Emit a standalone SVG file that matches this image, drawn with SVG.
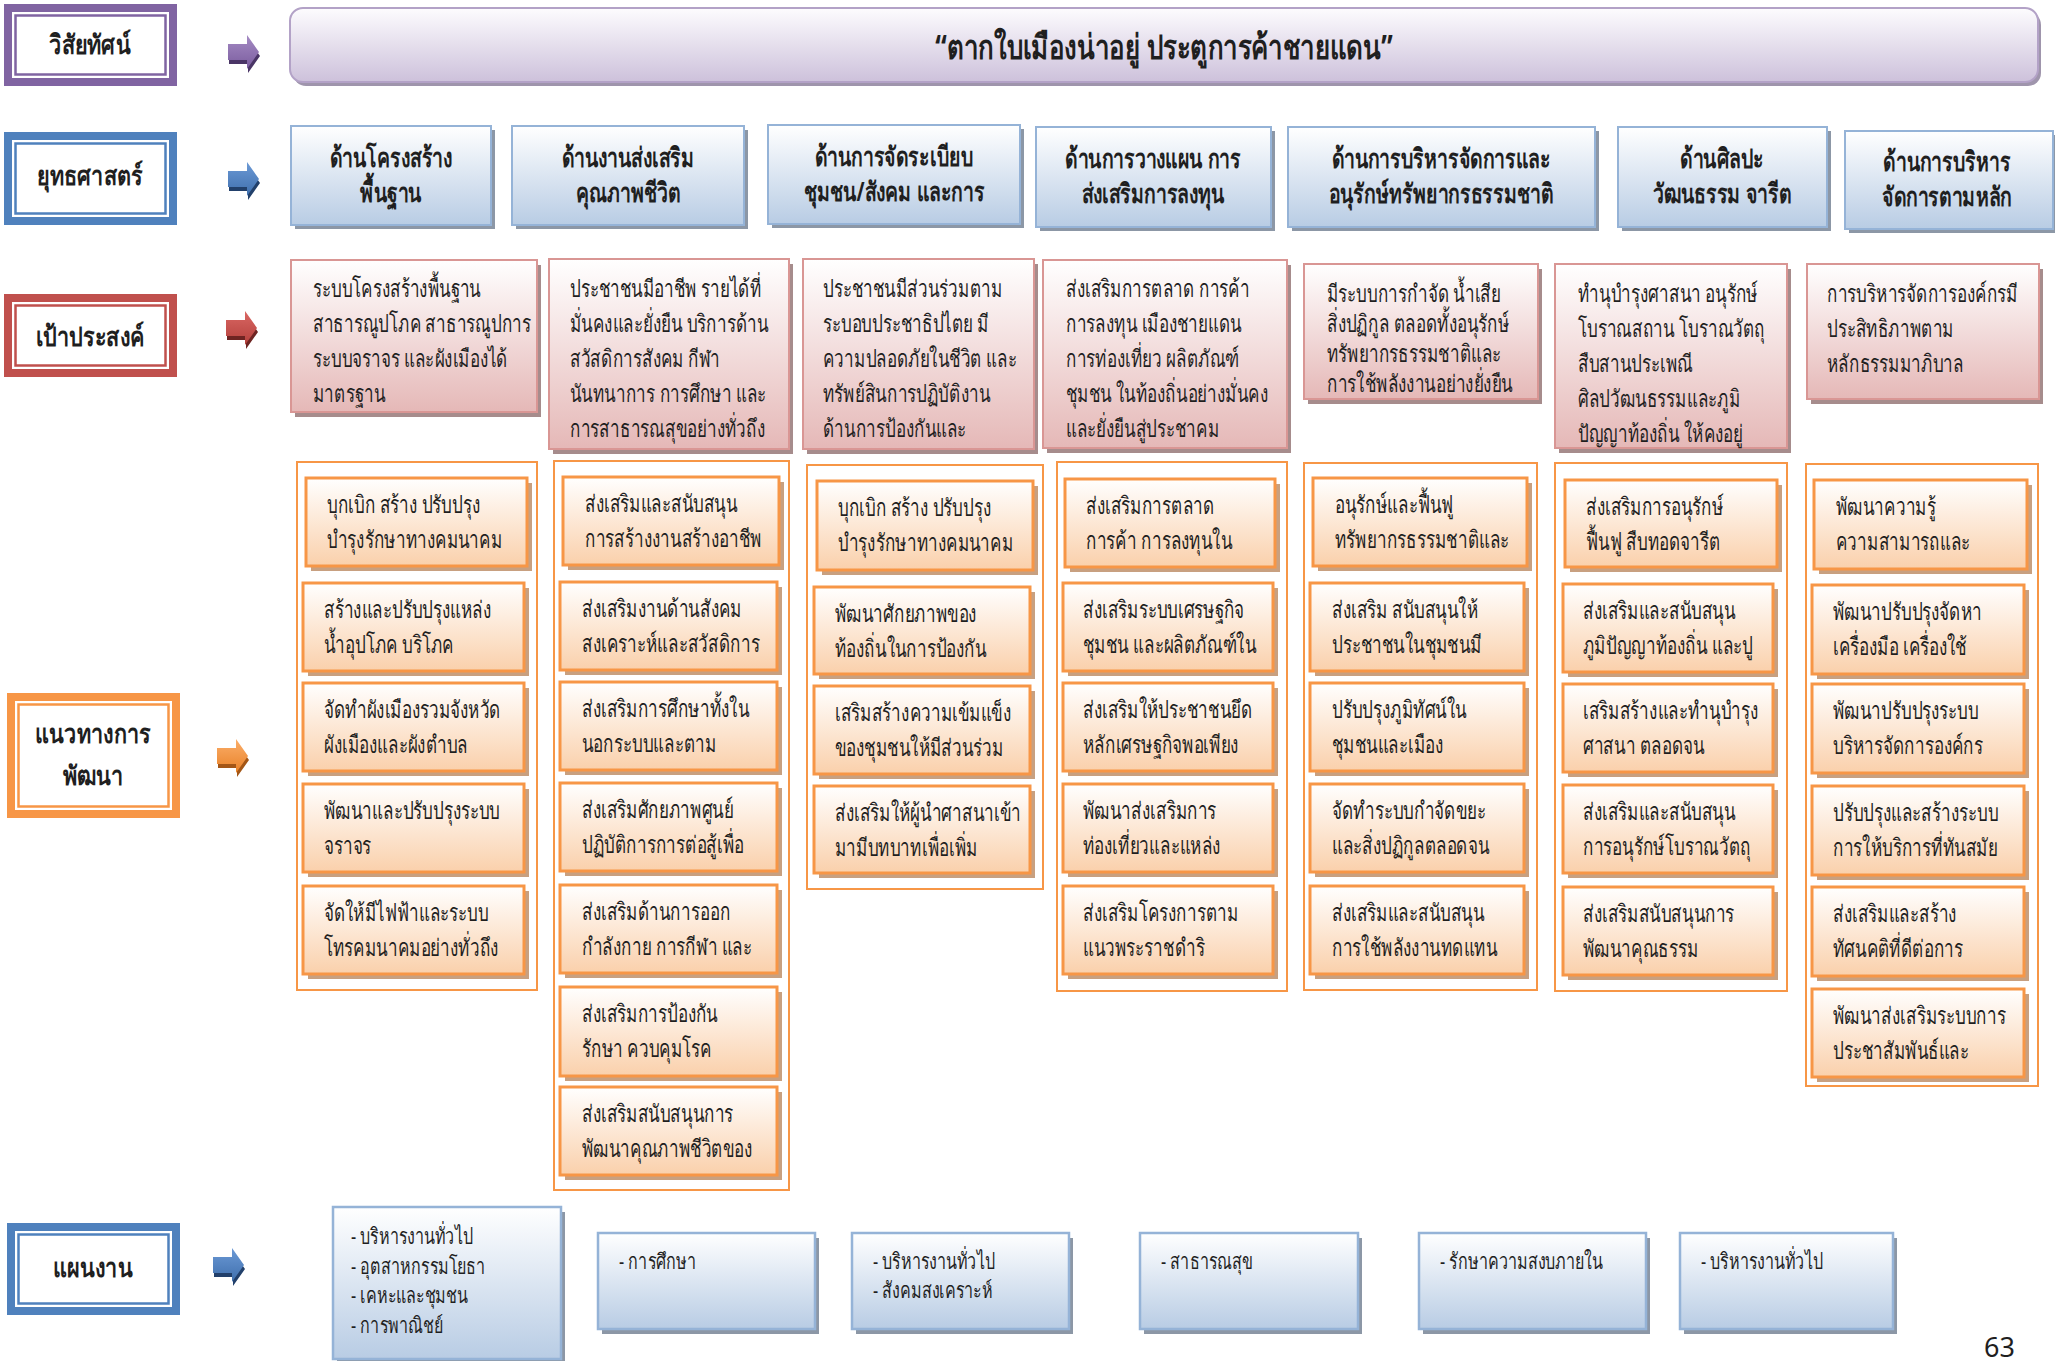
<svg xmlns="http://www.w3.org/2000/svg" width="2055" height="1361" viewBox="0 0 2055 1361">
<defs>
<linearGradient id="gVis" x1="0" y1="0" x2="0" y2="1"><stop offset="0" stop-color="#FDFCFE"/><stop offset="1" stop-color="#CDC1DB"/></linearGradient>
<linearGradient id="gStr" x1="0" y1="0" x2="0" y2="1"><stop offset="0" stop-color="#FFFFFF"/><stop offset="1" stop-color="#B8CCE4"/></linearGradient>
<linearGradient id="gGoal" x1="0" y1="0" x2="0" y2="1"><stop offset="0" stop-color="#FFFFFF"/><stop offset="1" stop-color="#E5B8B7"/></linearGradient>
<linearGradient id="gDev" x1="0" y1="0" x2="0" y2="1"><stop offset="0" stop-color="#FFFFFF"/><stop offset="1" stop-color="#FAD0AB"/></linearGradient>
<linearGradient id="aPur" x1="0" y1="0" x2="0" y2="1"><stop offset="0" stop-color="#A58BC4"/><stop offset="1" stop-color="#7A5C9E"/></linearGradient>
<linearGradient id="aBlu" x1="0" y1="0" x2="0" y2="1"><stop offset="0" stop-color="#6C9AD6"/><stop offset="1" stop-color="#3F6FAD"/></linearGradient>
<linearGradient id="aRed" x1="0" y1="0" x2="0" y2="1"><stop offset="0" stop-color="#DA6763"/><stop offset="1" stop-color="#B3403C"/></linearGradient>
<linearGradient id="aOra" x1="0" y1="0" x2="0" y2="1"><stop offset="0" stop-color="#FBAE6A"/><stop offset="1" stop-color="#E98228"/></linearGradient>
<path id="arw" d="M0,9 H19 V0 L31,17 L19,34 V25 H0 Z"/>
<style>
text{font-family:"Noto Sans","DejaVu Sans",sans-serif;fill:#1f1f1f}
.lbl{font-size:27px;font-weight:bold;text-anchor:middle}
.ttl{font-size:34px;font-weight:bold;text-anchor:middle}
.sh{font-size:27px;font-weight:bold;text-anchor:middle}
.gt{font-size:24px}
.dt{font-size:24px}
.pt{font-size:22px}
.pg{font-size:27px}
.visb{fill:url(#gVis);stroke:#B3A2C7;stroke-width:2}
.strb{fill:url(#gStr);stroke:#95B3D7;stroke-width:2}
.goalb{fill:url(#gGoal);stroke:#D99694;stroke-width:2}
.devb{fill:url(#gDev);stroke:#F79646;stroke-width:3}
.colb{fill:#FFFFFF;stroke:#F79646;stroke-width:2}
.planb{fill:url(#gStr);stroke:#95B3D7;stroke-width:2.5}
.shg{fill:#8C97A6}
.shr{fill:#A68C8C}
.sho{fill:#C8A080}
.shv{fill:#9F95AC}
</style>
</defs>

<!-- Left labels -->
<g id="label-vision">
<rect x="4" y="4" width="173" height="82" fill="#8064A2"/>
<rect x="12" y="12" width="157" height="66" fill="#FFFFFF"/>
<rect x="15.5" y="15.5" width="150" height="59" fill="none" stroke="#8064A2" stroke-width="2.5"/>
<g transform="matrix(0.8 0 0 1 90 0)"><text class="lbl" x="0" y="54">วิสัยทัศน์</text></g>
</g>
<g id="label-strategy">
<rect x="4" y="132" width="173" height="93" fill="#4F81BD"/>
<rect x="12" y="140" width="157" height="77" fill="#FFFFFF"/>
<rect x="15.5" y="143.5" width="150" height="70" fill="none" stroke="#4F81BD" stroke-width="2.5"/>
<g transform="matrix(0.8 0 0 1 90 0)"><text class="lbl" x="0" y="185">ยุทธศาสตร์</text></g>
</g>
<g id="label-goal">
<rect x="4" y="294" width="173" height="83" fill="#C0504D"/>
<rect x="12" y="302" width="157" height="67" fill="#FFFFFF"/>
<rect x="15.5" y="305.5" width="150" height="60" fill="none" stroke="#C0504D" stroke-width="2.5"/>
<g transform="matrix(0.8 0 0 1 90 0)"><text class="lbl" x="0" y="346">เป้าประสงค์</text></g>
</g>
<g id="label-dev">
<rect x="7" y="693" width="173" height="125" fill="#F79646"/>
<rect x="15" y="701" width="157" height="109" fill="#FFFFFF"/>
<rect x="18.5" y="704.5" width="150" height="102" fill="none" stroke="#F79646" stroke-width="2.5"/>
<g transform="matrix(0.8 0 0 1 93 0)"><text class="lbl" x="0" y="743">แนวทางการ</text><text class="lbl" x="0" y="785">พัฒนา</text></g>
</g>
<g id="label-plan">
<rect x="7" y="1223" width="173" height="92" fill="#4F81BD"/>
<rect x="15" y="1231" width="157" height="76" fill="#FFFFFF"/>
<rect x="18.5" y="1234.5" width="150" height="69" fill="none" stroke="#4F81BD" stroke-width="2.5"/>
<g transform="matrix(0.8 0 0 1 93 0)"><text class="lbl" x="0" y="1277">แผนงาน</text></g>
</g>

<!-- Connectors (block arrows) -->
<g id="connectors">
<use href="#arw" fill="#4A3566" transform="translate(229,39)"/>
<use href="#arw" fill="url(#aPur)" transform="translate(228,35)"/>
<use href="#arw" fill="#22406B" transform="translate(229,166)"/>
<use href="#arw" fill="url(#aBlu)" transform="translate(228,162)"/>
<use href="#arw" fill="#6E2422" transform="translate(227,315)"/>
<use href="#arw" fill="url(#aRed)" transform="translate(226,311)"/>
<use href="#arw" fill="#A35616" transform="translate(218,743)"/>
<use href="#arw" fill="url(#aOra)" transform="translate(217,739)"/>
<use href="#arw" fill="#22406B" transform="translate(214,1252)"/>
<use href="#arw" fill="url(#aBlu)" transform="translate(213,1248)"/>
</g>

<!-- Vision -->
<g id="vision">
<rect x="293" y="12" width="1748" height="74" rx="13" class="shv"/>
<rect x="290" y="8" width="1748" height="74" rx="13" class="visb"/>
<g transform="matrix(0.76 0 0 1 1164 0)"><text class="ttl" x="0" y="59">“ตากใบเมืองน่าอยู่ ประตูการค้าชายแดน”</text></g>
</g>

<!-- Strategies -->
<g id="strategy-1"><rect x="295" y="130" width="200" height="99" class="shg"/><rect x="291" y="126" width="200" height="99" class="strb"/><g transform="matrix(0.72 0 0 1 391 0)"><text class="sh" x="0" y="167">ด้านโครงสร้าง</text><text class="sh" x="0" y="202">พื้นฐาน</text></g></g>
<g id="strategy-2"><rect x="516" y="130" width="232" height="99" class="shg"/><rect x="512" y="126" width="232" height="99" class="strb"/><g transform="matrix(0.72 0 0 1 628 0)"><text class="sh" x="0" y="167">ด้านงานส่งเสริม</text><text class="sh" x="0" y="202">คุณภาพชีวิต</text></g></g>
<g id="strategy-3"><rect x="772" y="129" width="252" height="99" class="shg"/><rect x="768" y="125" width="252" height="99" class="strb"/><g transform="matrix(0.72 0 0 1 894 0)"><text class="sh" x="0" y="166">ด้านการจัดระเบียบ</text><text class="sh" x="0" y="201">ชุมชน/สังคม และการ</text></g></g>
<g id="strategy-4"><rect x="1040" y="131" width="235" height="100" class="shg"/><rect x="1036" y="127" width="235" height="100" class="strb"/><g transform="matrix(0.72 0 0 1 1153 0)"><text class="sh" x="0" y="168">ด้านการวางแผน การ</text><text class="sh" x="0" y="203">ส่งเสริมการลงทุน</text></g></g>
<g id="strategy-5"><rect x="1292" y="131" width="307" height="100" class="shg"/><rect x="1288" y="127" width="307" height="100" class="strb"/><g transform="matrix(0.72 0 0 1 1441 0)"><text class="sh" x="0" y="168">ด้านการบริหารจัดการและ</text><text class="sh" x="0" y="203">อนุรักษ์ทรัพยากรธรรมชาติ</text></g></g>
<g id="strategy-6"><rect x="1622" y="131" width="209" height="100" class="shg"/><rect x="1618" y="127" width="209" height="100" class="strb"/><g transform="matrix(0.72 0 0 1 1722 0)"><text class="sh" x="0" y="168">ด้านศิลปะ</text><text class="sh" x="0" y="203">วัฒนธรรม จารีต</text></g></g>
<g id="strategy-7"><rect x="1849" y="135" width="208" height="98" class="shg"/><rect x="1845" y="131" width="208" height="98" class="strb"/><g transform="matrix(0.72 0 0 1 1947 0)"><text class="sh" x="0" y="171">ด้านการบริหาร</text><text class="sh" x="0" y="206">จัดการตามหลัก</text></g></g>

<!-- Goals -->
<g id="goal-1"><rect x="295" y="265" width="246" height="152" class="shr"/><rect x="291" y="260" width="246" height="152" class="goalb"/>
<g transform="matrix(0.71 0 0 1 313 0)"><text class="gt" x="0" y="297">ระบบโครงสร้างพื้นฐาน</text><text class="gt" x="0" y="332">สาธารณูปโภค สาธารณูปการ</text><text class="gt" x="0" y="367">ระบบจราจร และผังเมืองได้</text><text class="gt" x="0" y="402">มาตรฐาน</text></g></g>
<g id="goal-2"><rect x="553" y="264" width="240" height="190" class="shr"/><rect x="549" y="259" width="240" height="190" class="goalb"/>
<g transform="matrix(0.71 0 0 1 570 0)"><text class="gt" x="0" y="297">ประชาชนมีอาชีพ รายได้ที่</text><text class="gt" x="0" y="332">มั่นคงและยั่งยืน บริการด้าน</text><text class="gt" x="0" y="367">สวัสดิการสังคม กีฬา</text><text class="gt" x="0" y="402">นันทนาการ การศึกษา และ</text><text class="gt" x="0" y="437">การสาธารณสุขอย่างทั่วถึง</text></g></g>
<g id="goal-3"><rect x="807" y="264" width="231" height="190" class="shr"/><rect x="803" y="259" width="231" height="190" class="goalb"/>
<g transform="matrix(0.71 0 0 1 823 0)"><text class="gt" x="0" y="297">ประชาชนมีส่วนร่วมตาม</text><text class="gt" x="0" y="332">ระบอบประชาธิปไตย มี</text><text class="gt" x="0" y="367">ความปลอดภัยในชีวิต และ</text><text class="gt" x="0" y="402">ทรัพย์สินการปฏิบัติงาน</text><text class="gt" x="0" y="437">ด้านการป้องกันและ</text></g></g>
<g id="goal-4"><rect x="1047" y="265" width="244" height="188" class="shr"/><rect x="1043" y="260" width="244" height="188" class="goalb"/>
<g transform="matrix(0.71 0 0 1 1066 0)"><text class="gt" x="0" y="297">ส่งเสริมการตลาด การค้า</text><text class="gt" x="0" y="332">การลงทุน เมืองชายแดน</text><text class="gt" x="0" y="367">การท่องเที่ยว ผลิตภัณฑ์</text><text class="gt" x="0" y="402">ชุมชน ในท้องถิ่นอย่างมั่นคง</text><text class="gt" x="0" y="437">และยั่งยืนสู่ประชาคม</text></g></g>
<g id="goal-5"><rect x="1308" y="269" width="234" height="135" class="shr"/><rect x="1304" y="264" width="234" height="135" class="goalb"/>
<g transform="matrix(0.71 0 0 1 1327 0)"><text class="gt" x="0" y="302">มีระบบการกำจัด น้ำเสีย</text><text class="gt" x="0" y="332">สิ่งปฏิกูล ตลอดทั้งอนุรักษ์</text><text class="gt" x="0" y="362">ทรัพยากรธรรมชาติและ</text><text class="gt" x="0" y="392">การใช้พลังงานอย่างยั่งยืน</text></g></g>
<g id="goal-6"><rect x="1559" y="269" width="232" height="184" class="shr"/><rect x="1555" y="264" width="232" height="184" class="goalb"/>
<g transform="matrix(0.71 0 0 1 1578 0)"><text class="gt" x="0" y="302">ทำนุบำรุงศาสนา อนุรักษ์</text><text class="gt" x="0" y="337">โบราณสถาน โบราณวัตถุ</text><text class="gt" x="0" y="372">สืบสานประเพณี</text><text class="gt" x="0" y="407">ศิลปวัฒนธรรมและภูมิ</text><text class="gt" x="0" y="442">ปัญญาท้องถิ่น ให้คงอยู่</text></g></g>
<g id="goal-7"><rect x="1811" y="269" width="232" height="135" class="shr"/><rect x="1807" y="264" width="232" height="135" class="goalb"/>
<g transform="matrix(0.71 0 0 1 1827 0)"><text class="gt" x="0" y="302">การบริหารจัดการองค์กรมี</text><text class="gt" x="0" y="337">ประสิทธิภาพตาม</text><text class="gt" x="0" y="372">หลักธรรมมาภิบาล</text></g></g>

<!-- Development guideline columns -->
<g id="dev-col-1">
<rect x="297" y="462" width="240" height="528" class="colb"/>
<rect x="311" y="483" width="221" height="88" class="sho"/><rect x="306" y="478" width="221" height="88" class="devb"/>
<rect x="308" y="588" width="221" height="88" class="sho"/><rect x="303" y="583" width="221" height="88" class="devb"/>
<rect x="308" y="688" width="221" height="88" class="sho"/><rect x="303" y="683" width="221" height="88" class="devb"/>
<rect x="308" y="789" width="221" height="88" class="sho"/><rect x="303" y="784" width="221" height="88" class="devb"/>
<rect x="308" y="891" width="221" height="88" class="sho"/><rect x="303" y="886" width="221" height="88" class="devb"/>
<g transform="matrix(0.71 0 0 1 327 0)"><text class="dt" x="0" y="513">บุกเบิก สร้าง ปรับปรุง</text><text class="dt" x="0" y="548">บำรุงรักษาทางคมนาคม</text></g>
<g transform="matrix(0.71 0 0 1 324 0)">
<text class="dt" x="0" y="618">สร้างและปรับปรุงแหล่ง</text><text class="dt" x="0" y="653">น้ำอุปโภค บริโภค</text>
<text class="dt" x="0" y="718">จัดทำผังเมืองรวมจังหวัด</text><text class="dt" x="0" y="753">ผังเมืองและผังตำบล</text>
<text class="dt" x="0" y="819">พัฒนาและปรับปรุงระบบ</text><text class="dt" x="0" y="854">จราจร</text>
<text class="dt" x="0" y="921">จัดให้มีไฟฟ้าและระบบ</text><text class="dt" x="0" y="956">โทรคมนาคมอย่างทั่วถึง</text>
</g>
</g>
<g id="dev-col-2">
<rect x="554" y="461" width="235" height="729" class="colb"/>
<rect x="568" y="482" width="216" height="88" class="sho"/><rect x="563" y="477" width="216" height="88" class="devb"/>
<rect x="565" y="587" width="217" height="88" class="sho"/><rect x="560" y="582" width="217" height="88" class="devb"/>
<rect x="565" y="687" width="217" height="88" class="sho"/><rect x="560" y="682" width="217" height="88" class="devb"/>
<rect x="565" y="788" width="217" height="88" class="sho"/><rect x="560" y="783" width="217" height="88" class="devb"/>
<rect x="565" y="890" width="217" height="88" class="sho"/><rect x="560" y="885" width="217" height="88" class="devb"/>
<rect x="565" y="992" width="217" height="89" class="sho"/><rect x="560" y="987" width="217" height="89" class="devb"/>
<rect x="565" y="1092" width="217" height="88" class="sho"/><rect x="560" y="1087" width="217" height="88" class="devb"/>
<g transform="matrix(0.71 0 0 1 585 0)"><text class="dt" x="0" y="512">ส่งเสริมและสนับสนุน</text><text class="dt" x="0" y="547">การสร้างงานสร้างอาชีพ</text></g>
<g transform="matrix(0.71 0 0 1 582 0)">
<text class="dt" x="0" y="617">ส่งเสริมงานด้านสังคม</text><text class="dt" x="0" y="652">สงเคราะห์และสวัสดิการ</text>
<text class="dt" x="0" y="717">ส่งเสริมการศึกษาทั้งใน</text><text class="dt" x="0" y="752">นอกระบบและตาม</text>
<text class="dt" x="0" y="818">ส่งเสริมศักยภาพศูนย์</text><text class="dt" x="0" y="853">ปฏิบัติการการต่อสู้เพื่อ</text>
<text class="dt" x="0" y="920">ส่งเสริมด้านการออก</text><text class="dt" x="0" y="955">กำลังกาย การกีฬา และ</text>
<text class="dt" x="0" y="1022">ส่งเสริมการป้องกัน</text><text class="dt" x="0" y="1057">รักษา ควบคุมโรค</text>
<text class="dt" x="0" y="1122">ส่งเสริมสนับสนุนการ</text><text class="dt" x="0" y="1157">พัฒนาคุณภาพชีวิตของ</text>
</g>
</g>
<g id="dev-col-3">
<rect x="807" y="465" width="236" height="424" class="colb"/>
<rect x="822" y="486" width="216" height="89" class="sho"/><rect x="817" y="481" width="216" height="89" class="devb"/>
<rect x="819" y="592" width="216" height="87" class="sho"/><rect x="814" y="587" width="216" height="87" class="devb"/>
<rect x="819" y="691" width="216" height="88" class="sho"/><rect x="814" y="686" width="216" height="88" class="devb"/>
<rect x="819" y="791" width="216" height="87" class="sho"/><rect x="814" y="786" width="216" height="87" class="devb"/>
<g transform="matrix(0.71 0 0 1 838 0)"><text class="dt" x="0" y="516">บุกเบิก สร้าง ปรับปรุง</text><text class="dt" x="0" y="551">บำรุงรักษาทางคมนาคม</text></g>
<g transform="matrix(0.71 0 0 1 835 0)">
<text class="dt" x="0" y="622">พัฒนาศักยภาพของ</text><text class="dt" x="0" y="657">ท้องถิ่นในการป้องกัน</text>
<text class="dt" x="0" y="721">เสริมสร้างความเข้มแข็ง</text><text class="dt" x="0" y="756">ของชุมชนให้มีส่วนร่วม</text>
<text class="dt" x="0" y="821">ส่งเสริมให้ผู้นำศาสนาเข้า</text><text class="dt" x="0" y="856">มามีบทบาทเพื่อเพิ่ม</text>
</g>
</g>
<g id="dev-col-4">
<rect x="1057" y="462" width="230" height="529" class="colb"/>
<rect x="1070" y="484" width="210" height="88" class="sho"/><rect x="1065" y="479" width="210" height="88" class="devb"/>
<rect x="1068" y="588" width="210" height="88" class="sho"/><rect x="1063" y="583" width="210" height="88" class="devb"/>
<rect x="1068" y="688" width="210" height="88" class="sho"/><rect x="1063" y="683" width="210" height="88" class="devb"/>
<rect x="1068" y="789" width="210" height="88" class="sho"/><rect x="1063" y="784" width="210" height="88" class="devb"/>
<rect x="1068" y="891" width="210" height="88" class="sho"/><rect x="1063" y="886" width="210" height="88" class="devb"/>
<g transform="matrix(0.71 0 0 1 1086 0)"><text class="dt" x="0" y="514">ส่งเสริมการตลาด</text><text class="dt" x="0" y="549">การค้า การลงทุนใน</text></g>
<g transform="matrix(0.71 0 0 1 1083 0)">
<text class="dt" x="0" y="618">ส่งเสริมระบบเศรษฐกิจ</text><text class="dt" x="0" y="653">ชุมชน และผลิตภัณฑ์ใน</text>
<text class="dt" x="0" y="718">ส่งเสริมให้ประชาชนยึด</text><text class="dt" x="0" y="753">หลักเศรษฐกิจพอเพียง</text>
<text class="dt" x="0" y="819">พัฒนาส่งเสริมการ</text><text class="dt" x="0" y="854">ท่องเที่ยวและแหล่ง</text>
<text class="dt" x="0" y="921">ส่งเสริมโครงการตาม</text><text class="dt" x="0" y="956">แนวพระราชดำริ</text>
</g>
</g>
<g id="dev-col-5">
<rect x="1304" y="463" width="233" height="527" class="colb"/>
<rect x="1318" y="483" width="214" height="88" class="sho"/><rect x="1313" y="478" width="214" height="88" class="devb"/>
<rect x="1315" y="588" width="214" height="88" class="sho"/><rect x="1310" y="583" width="214" height="88" class="devb"/>
<rect x="1315" y="688" width="214" height="88" class="sho"/><rect x="1310" y="683" width="214" height="88" class="devb"/>
<rect x="1315" y="789" width="214" height="88" class="sho"/><rect x="1310" y="784" width="214" height="88" class="devb"/>
<rect x="1315" y="891" width="214" height="88" class="sho"/><rect x="1310" y="886" width="214" height="88" class="devb"/>
<g transform="matrix(0.71 0 0 1 1335 0)"><text class="dt" x="0" y="513">อนุรักษ์และฟื้นฟู</text><text class="dt" x="0" y="548">ทรัพยากรธรรมชาติและ</text></g>
<g transform="matrix(0.71 0 0 1 1332 0)">
<text class="dt" x="0" y="618">ส่งเสริม สนับสนุนให้</text><text class="dt" x="0" y="653">ประชาชนในชุมชนมี</text>
<text class="dt" x="0" y="718">ปรับปรุงภูมิทัศน์ใน</text><text class="dt" x="0" y="753">ชุมชนและเมือง</text>
<text class="dt" x="0" y="819">จัดทำระบบกำจัดขยะ</text><text class="dt" x="0" y="854">และสิ่งปฏิกูลตลอดจน</text>
<text class="dt" x="0" y="921">ส่งเสริมและสนับสนุน</text><text class="dt" x="0" y="956">การใช้พลังงานทดแทน</text>
</g>
</g>
<g id="dev-col-6">
<rect x="1555" y="463" width="232" height="528" class="colb"/>
<rect x="1570" y="485" width="212" height="87" class="sho"/><rect x="1565" y="480" width="212" height="87" class="devb"/>
<rect x="1568" y="589" width="210" height="88" class="sho"/><rect x="1563" y="584" width="210" height="88" class="devb"/>
<rect x="1568" y="689" width="210" height="88" class="sho"/><rect x="1563" y="684" width="210" height="88" class="devb"/>
<rect x="1568" y="790" width="210" height="88" class="sho"/><rect x="1563" y="785" width="210" height="88" class="devb"/>
<rect x="1568" y="892" width="210" height="88" class="sho"/><rect x="1563" y="887" width="210" height="88" class="devb"/>
<g transform="matrix(0.71 0 0 1 1586 0)"><text class="dt" x="0" y="515">ส่งเสริมการอนุรักษ์</text><text class="dt" x="0" y="550">ฟื้นฟู สืบทอดจารีต</text></g>
<g transform="matrix(0.71 0 0 1 1583 0)">
<text class="dt" x="0" y="619">ส่งเสริมและสนับสนุน</text><text class="dt" x="0" y="654">ภูมิปัญญาท้องถิ่น และปู</text>
<text class="dt" x="0" y="719">เสริมสร้างและทำนุบำรุง</text><text class="dt" x="0" y="754">ศาสนา ตลอดจน</text>
<text class="dt" x="0" y="820">ส่งเสริมและสนับสนุน</text><text class="dt" x="0" y="855">การอนุรักษ์โบราณวัตถุ</text>
<text class="dt" x="0" y="922">ส่งเสริมสนับสนุนการ</text><text class="dt" x="0" y="957">พัฒนาคุณธรรม</text>
</g>
</g>
<g id="dev-col-7">
<rect x="1806" y="464" width="232" height="622" class="colb"/>
<rect x="1819" y="485" width="213" height="89" class="sho"/><rect x="1814" y="480" width="213" height="89" class="devb"/>
<rect x="1817" y="590" width="212" height="89" class="sho"/><rect x="1812" y="585" width="212" height="89" class="devb"/>
<rect x="1817" y="689" width="212" height="89" class="sho"/><rect x="1812" y="684" width="212" height="89" class="devb"/>
<rect x="1817" y="791" width="212" height="89" class="sho"/><rect x="1812" y="786" width="212" height="89" class="devb"/>
<rect x="1817" y="892" width="212" height="89" class="sho"/><rect x="1812" y="887" width="212" height="89" class="devb"/>
<rect x="1817" y="994" width="212" height="88" class="sho"/><rect x="1812" y="989" width="212" height="88" class="devb"/>
<g transform="matrix(0.71 0 0 1 1836 0)"><text class="dt" x="0" y="515">พัฒนาความรู้</text><text class="dt" x="0" y="550">ความสามารถและ</text></g>
<g transform="matrix(0.71 0 0 1 1833 0)">
<text class="dt" x="0" y="620">พัฒนาปรับปรุงจัดหา</text><text class="dt" x="0" y="655">เครื่องมือ เครื่องใช้</text>
<text class="dt" x="0" y="719">พัฒนาปรับปรุงระบบ</text><text class="dt" x="0" y="754">บริหารจัดการองค์กร</text>
<text class="dt" x="0" y="821">ปรับปรุงและสร้างระบบ</text><text class="dt" x="0" y="856">การให้บริการที่ทันสมัย</text>
<text class="dt" x="0" y="922">ส่งเสริมและสร้าง</text><text class="dt" x="0" y="957">ทัศนคติที่ดีต่อการ</text>
<text class="dt" x="0" y="1024">พัฒนาส่งเสริมระบบการ</text><text class="dt" x="0" y="1059">ประชาสัมพันธ์และ</text>
</g>
</g>

<!-- Plans -->
<g id="plan-1"><rect x="337" y="1212" width="228" height="152" class="shg"/><rect x="333" y="1207" width="228" height="152" class="planb"/>
<g transform="matrix(0.73 0 0 1 351 0)"><text class="pt" x="0" y="1244">- บริหารงานทั่วไป</text><text class="pt" x="0" y="1274">- อุตสาหกรรมโยธา</text><text class="pt" x="0" y="1303">- เคหะและชุมชน</text><text class="pt" x="0" y="1333">- การพาณิชย์</text></g></g>
<g id="plan-2"><rect x="602" y="1238" width="217" height="96" class="shg"/><rect x="598" y="1233" width="217" height="96" class="planb"/><g transform="matrix(0.73 0 0 1 619 0)"><text class="pt" x="0" y="1269">- การศึกษา</text></g></g>
<g id="plan-3"><rect x="856" y="1238" width="217" height="96" class="shg"/><rect x="852" y="1233" width="217" height="96" class="planb"/><g transform="matrix(0.73 0 0 1 873 0)"><text class="pt" x="0" y="1269">- บริหารงานทั่วไป</text><text class="pt" x="0" y="1298">- สังคมสงเคราะห์</text></g></g>
<g id="plan-4"><rect x="1144" y="1238" width="218" height="96" class="shg"/><rect x="1140" y="1233" width="218" height="96" class="planb"/><g transform="matrix(0.73 0 0 1 1161 0)"><text class="pt" x="0" y="1269">- สาธารณสุข</text></g></g>
<g id="plan-5"><rect x="1423" y="1238" width="227" height="96" class="shg"/><rect x="1419" y="1233" width="227" height="96" class="planb"/><g transform="matrix(0.73 0 0 1 1440 0)"><text class="pt" x="0" y="1269">- รักษาความสงบภายใน</text></g></g>
<g id="plan-6"><rect x="1684" y="1238" width="213" height="96" class="shg"/><rect x="1680" y="1233" width="213" height="96" class="planb"/><g transform="matrix(0.73 0 0 1 1701 0)"><text class="pt" x="0" y="1269">- บริหารงานทั่วไป</text></g></g>

<text class="pg" x="1984" y="1357">63</text>
</svg>
